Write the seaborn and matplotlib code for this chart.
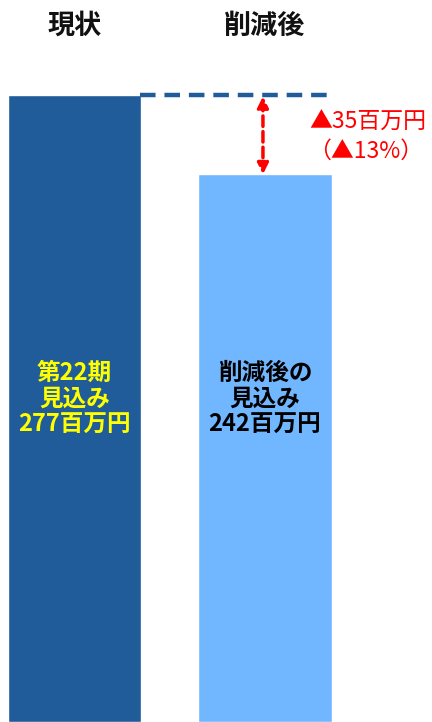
import matplotlib
matplotlib.use("Agg")
import matplotlib.pyplot as plt
import seaborn as sns
import pandas as pd

categories = ["現状", "削減後"]
values = [277, 242]
bar_labels = ["第22期\n見込み\n277百万円", "削減後の\n見込み\n242百万円"]
diff_label = "▲35百万円"
pct_label = "（▲13%）"

sns.set_theme(style="white")
plt.rcParams['font.family'] = ['Noto Sans CJK JP', 'DejaVu Sans']

df = pd.DataFrame({"cat": categories, "val": values})

fig = plt.figure(figsize=(4.32, 7.22), dpi=100)
ax = fig.add_axes([0, 0, 1, 1])
sns.barplot(data=df, x="cat", y="val", hue="cat", palette=["#1F5C99", "#71B7FF"],
            width=0.7, ax=ax, legend=False, saturation=1)
ax.set_xlim(-0.391, 1.877)
ax.set_ylim(0, 319)
ax.axis("off")

# headers
for i, c in enumerate(categories):
    ax.text(i, 319 - 26 / 2.2635, c, ha="center", va="center", fontsize=19.5,
            fontweight="bold", color="#111111")

# bar labels
colors = ["#FFFF00", "#000000"]
for i, (lab, v) in enumerate(zip(bar_labels, values)):
    ax.text(i, (722 - 399) / 2.2635, lab, ha="center", va="center", fontsize=17,
            fontweight="bold", color=colors[i], linespacing=1.12)

# dashed reference line
ax.plot([0.345, 1.35], [values[0], values[0]], ls=(0, (3.5, 2)), lw=3.2, color="#1F5C99")

# red double arrow
xa = (263 - 74.5) / 190.5
ax.annotate("", xy=(xa, values[1]), xytext=(xa, values[0]),
            arrowprops=dict(arrowstyle="<|-|>", color="#FF0000", lw=2.5, ls=(0, (3, 1.5)),
                            mutation_scale=16, shrinkA=1, shrinkB=0))

ax.text((368 - 74.5) / 190.5, (722 - 122) / 2.2635, diff_label, ha="center", va="center",
        fontsize=16.5, color="#FF0000")
ax.text((366 - 74.5) / 190.5, (722 - 151) / 2.2635, pct_label, ha="center", va="center",
        fontsize=16.5, color="#FF0000")

fig.savefig("out.png", dpi=100)
